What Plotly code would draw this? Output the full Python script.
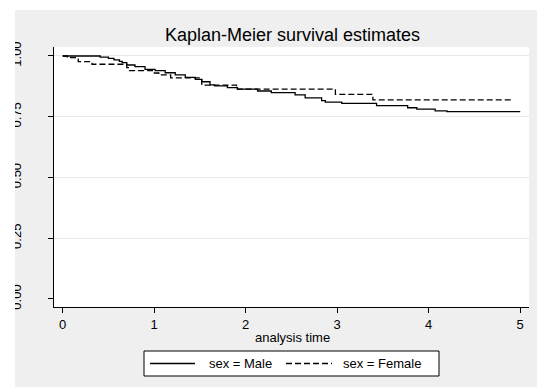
import plotly.graph_objects as go

# ---- data ----
male_t = [0, 0.41, 0.50, 0.56, 0.62, 0.65, 0.70, 0.79, 0.90, 1.01, 1.12, 1.23, 1.34, 1.45,
          1.52, 1.61, 1.66, 1.80, 1.91, 2.13, 2.28, 2.54, 2.65, 2.83, 2.87, 3.05, 3.43,
          3.77, 3.87, 4.07, 4.20, 5.00]
male_s = [1.0, 0.995, 0.990, 0.984, 0.978, 0.973, 0.963, 0.956, 0.945, 0.940, 0.931, 0.922,
          0.912, 0.904, 0.894, 0.881, 0.877, 0.870, 0.864, 0.856, 0.849, 0.840, 0.828, 0.816,
          0.810, 0.805, 0.796, 0.787, 0.781, 0.774, 0.771, 0.771]
female_t = [0, 0.05, 0.17, 0.32, 0.70, 0.73, 0.98, 1.05, 1.18, 1.52, 1.90, 2.98, 3.39, 4.92]
female_s = [1.0, 0.993, 0.977, 0.966, 0.952, 0.940, 0.930, 0.922, 0.910, 0.880, 0.864,
            0.842, 0.819, 0.819]

x_ticks = [0, 1, 2, 3, 4, 5]
y_ticks = [0.0, 0.25, 0.5, 0.75, 1.0]
y_tick_labels = ["0.00", "0.25", "0.50", "0.75", "1.00"]
title_text = "Kaplan-Meier survival estimates"
x_title = "analysis time"
legend_labels = ["sex = Male", "sex = Female"]

# ---- layout geometry (pixels) ----
W, H = 537, 387
PL, PR, PT, PB = 54, 529, 47, 307  # plot area


def px(xp):
    return (xp - PL) / (PR - PL)


def py(yp):
    return (PB - yp) / (PB - PT)


FONT = "Liberation Sans, Arial, sans-serif"
BG = "#efefef"

fig = go.Figure()
fig.add_trace(go.Scatter(x=male_t, y=male_s, mode="lines", line_shape="hv",
                         line=dict(color="black", width=1.3), name=legend_labels[0],
                         showlegend=False, hoverinfo="skip"))
fig.add_trace(go.Scatter(x=female_t, y=female_s, mode="lines", line_shape="hv",
                         line=dict(color="black", width=1.3, dash="6px,3px"),
                         name=legend_labels[1], showlegend=False, hoverinfo="skip"))

shapes = [
    # grey graph region
    dict(type="rect", xref="paper", yref="paper", x0=px(15), x1=px(537), y0=py(10), y1=py(387),
         fillcolor=BG, line=dict(width=0), layer="below"),
    # white plot region
    dict(type="rect", xref="paper", yref="paper", x0=0, x1=1, y0=0, y1=1,
         fillcolor="white", line=dict(width=0), layer="below"),
    # white strip clipping the y tick labels on the left
    dict(type="rect", xref="paper", yref="paper", x0=px(-5), x1=px(15), y0=py(-5), y1=py(392),
         fillcolor="white", line=dict(width=0), layer="above"),
    # legend box
    dict(type="rect", xref="paper", yref="paper", x0=px(144), x1=px(439), y0=py(351), y1=py(376),
         fillcolor="white", line=dict(color="black", width=1), layer="above"),
    dict(type="line", xref="paper", yref="paper", x0=px(150), x1=px(195), y0=py(363.5), y1=py(363.5),
         line=dict(color="black", width=1.3), layer="above"),
    dict(type="line", xref="paper", yref="paper", x0=px(286), x1=px(332), y0=py(363.5), y1=py(363.5),
         line=dict(color="black", width=1.3, dash="6px,3px"), layer="above"),
]

annotations = [
    dict(text=title_text, xref="paper", yref="paper", x=px(292.5), y=py(35), xanchor="center",
         yanchor="middle", showarrow=False, font=dict(family=FONT, size=18, color="black")),
    dict(text=x_title, xref="paper", yref="paper", x=px(292), y=py(337.5), xanchor="center",
         yanchor="middle", showarrow=False, font=dict(family=FONT, size=13, color="black")),
    dict(text=legend_labels[0], xref="paper", yref="paper", x=px(207), y=py(363.5), xanchor="left",
         yanchor="middle", showarrow=False, font=dict(family=FONT, size=13, color="black")),
    dict(text=legend_labels[1], xref="paper", yref="paper", x=px(341), y=py(363.5), xanchor="left",
         yanchor="middle", showarrow=False, font=dict(family=FONT, size=13, color="black")),
]

fig.update_layout(
    width=W, height=H,
    margin=dict(l=PL, r=W - PR, t=PT, b=H - PB, pad=0, autoexpand=False),
    paper_bgcolor="white", plot_bgcolor="white",
    font=dict(family=FONT, size=13, color="black"),
    shapes=shapes, annotations=annotations, showlegend=False,
    xaxis=dict(range=[-0.095, 5.096], tickvals=x_ticks, ticks="outside", ticklen=5,
               tickcolor="black", tickwidth=1, showline=True, linecolor="black", linewidth=1,
               showgrid=False, zeroline=False, automargin=False,
               tickfont=dict(family=FONT, size=13, color="black")),
    yaxis=dict(range=[-0.033, 1.037], tickvals=y_ticks, ticktext=y_tick_labels,
               ticks="outside", ticklen=5, tickcolor="black", tickwidth=1, tickangle=-90,
               showline=True, linecolor="black", linewidth=1, showgrid=True, gridcolor="#e8e8e8",
               gridwidth=1, zeroline=True, zerolinecolor="white", zerolinewidth=1,
               automargin=False, ticklabelstandoff=22,
               tickfont=dict(family=FONT, size=13, color="black")),
)

fig.write_html("out.html")
